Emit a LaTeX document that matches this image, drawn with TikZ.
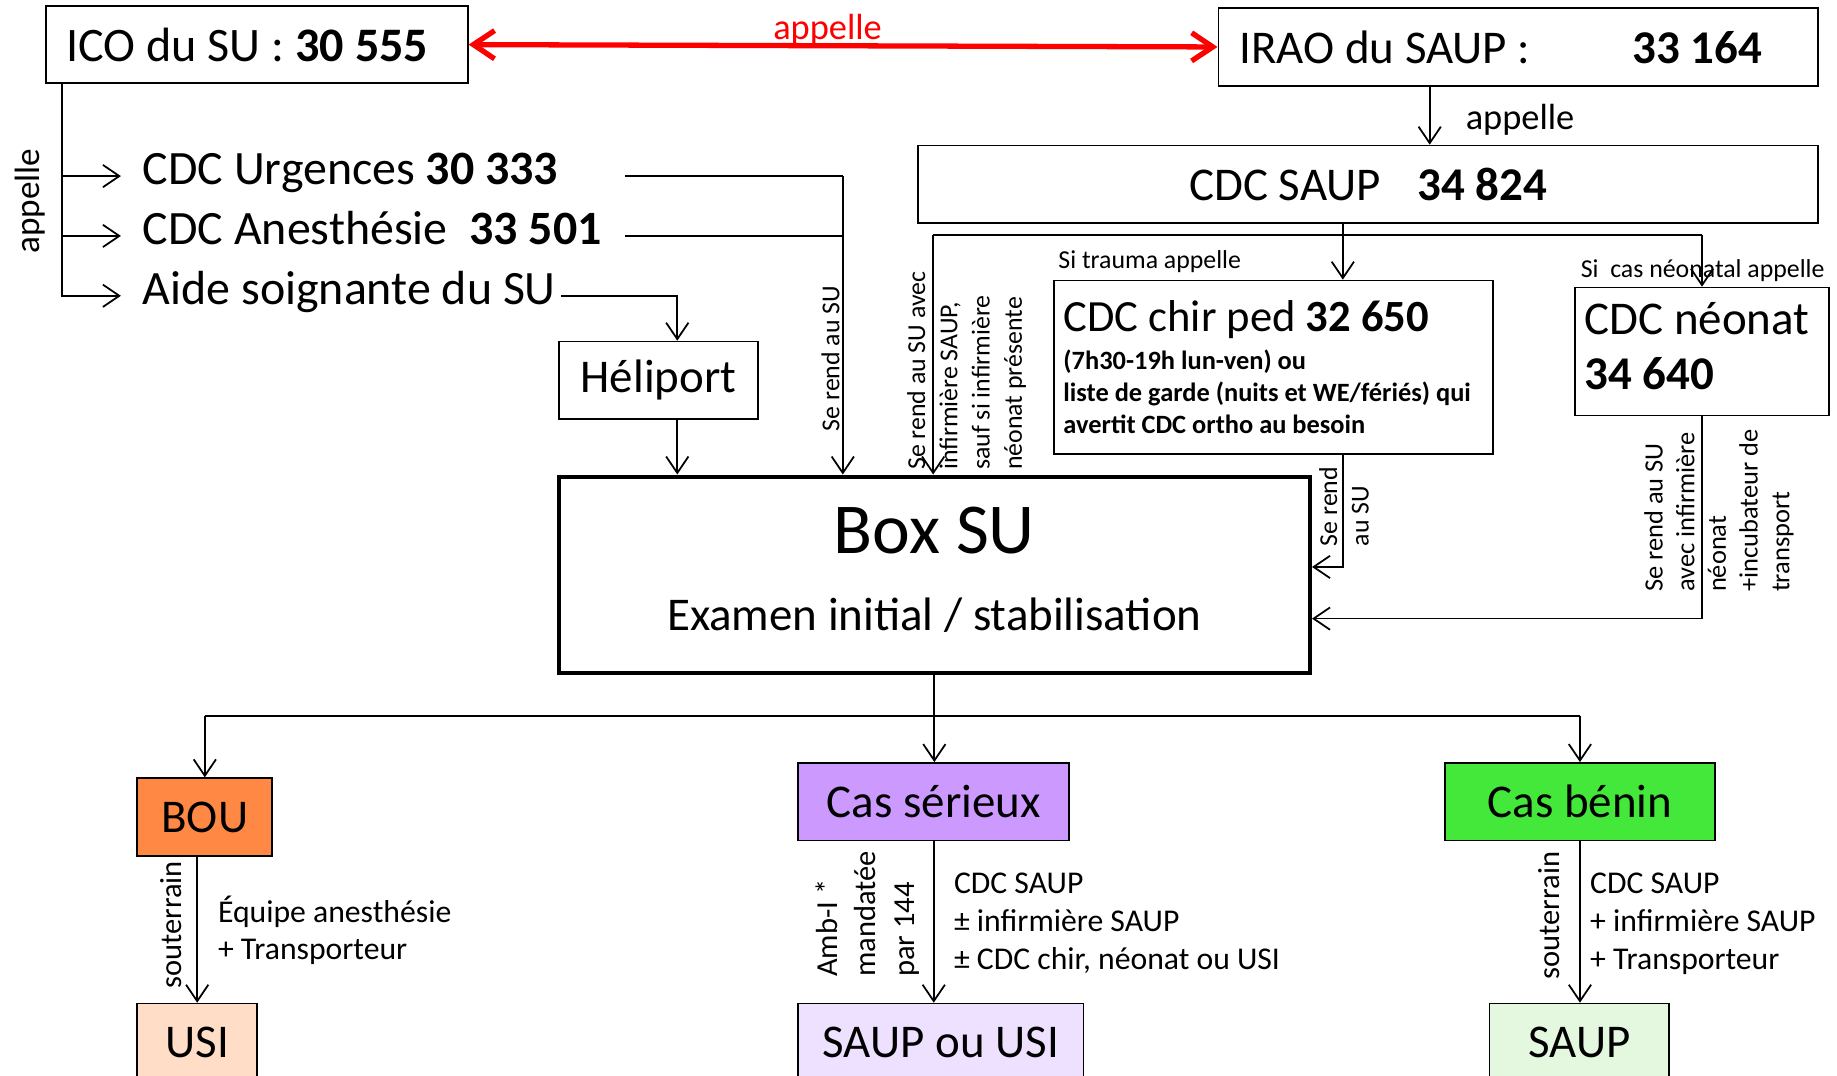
\documentclass[tikz,border=0pt]{standalone}
\usepackage{fontspec}
\setmainfont{Carlito}
\usetikzlibrary{arrows.meta}

\newlength{\du}
\setlength{\du}{1pt}

\definecolor{rougeappel}{rgb}{1.000000, 0.000000, 0.000000}
\definecolor{bouorange}{HTML}{FF8844}
\definecolor{serieuxmauve}{HTML}{CC99FF}
\definecolor{beninvert}{HTML}{44E83A}
\definecolor{usipeche}{HTML}{FFDDC6}
\definecolor{saupusimauve}{HTML}{EEE1FF}
\definecolor{saupvert}{HTML}{E4F8DF}

\tikzset{
  boite/.style={draw, line width=1.5\du, inner sep=0pt, align=center,
    font=\fontsize{40}{48}\selectfont},
  fleche/.style={arrows={-Straight Barb[length=14pt,width=19pt]}},
  doublefleche/.style={arrows={Straight Barb[length=18pt,width=24pt]-Straight Barb[length=18pt,width=24pt]}},
  texte/.style={inner sep=0pt, align=left},
  vert/.style={rotate=90, anchor=north west, inner sep=0pt, align=left},
  fpetit/.style={font=\fontsize{22}{27.5}\selectfont},
  fmoyen/.style={font=\fontsize{27}{32.5}\selectfont},
}

\begin{document}
\begin{tikzpicture}[x=\du, y=-\du, line width=1.5\du]
\useasboundingbox (0,0) rectangle (1565,916);

% en-tete : ICO <-> IRAO
\node[boite, minimum height=66\du, text width=325\du, inner xsep=17\du, align=flush left, font=\fontsize{41}{49}\selectfont] (ico) at (219,38) {ICO du SU : \textbf{30 555}};
\node[boite, minimum height=66\du, text width=475\du, inner xsep=18\du, align=flush left] (irao) at (1293.5,40) {IRAO du SAUP :\hspace{87\du}\textbf{33 164}};
\draw[rougeappel, line width=4.5\du, doublefleche] (ico.east) -- (irao.west);
\node[texte, anchor=base west, text=rougeappel, font=\fontsize{31}{37}\selectfont] (lblrouge) at (658,34) {appelle};

% appels de l'ICO
\coordinate (icotronc) at ([xshift=14\du]ico.south west);
\node[texte, anchor=west, text height=22\du, text depth=8\du, inner xsep=18\du, text width=392\du, align=flush left, font=\fontsize{40.8}{48}\selectfont] (urg) at (103,150) {CDC~Urgences~\textbf{30~333}};
\node[texte, anchor=west, text height=22\du, text depth=8\du, inner xsep=18\du, text width=392\du, align=flush left, font=\fontsize{40.8}{48}\selectfont] (anes) at (103,201) {CDC~Anesthésie~~\textbf{33~501}};
\node[texte, anchor=west, text height=22\du, text depth=8\du, inner xsep=18\du, font=\fontsize{40.8}{48}\selectfont] (aide) at (103,252) {Aide soignante du SU};
\draw[fleche] (icotronc) |- (aide.west);
\draw[fleche] (icotronc |- urg.west) -- (urg.west);
\draw[fleche] (icotronc |- anes.west) -- (anes.west);
\node[vert, font=\fontsize{30}{36}\selectfont] (lblgauche) at (12,217) {appelle};

% Box SU
\node[boite, line width=3.5\du, minimum width=640\du, minimum height=167\du] (boxsu) at (796,489.5) {{\fontsize{61}{73}\selectfont Box SU}\\[17.7\du]Examen initial / stabilisation\rule[-10\du]{0pt}{0pt}};

% Urgences et Anesthesie vers le box
\coordinate (urgcoin) at (718,150);
\draw (urg.east) -- (urgcoin);
\draw (anes.east) -- (anes.east -| urgcoin);
\draw[fleche] (urgcoin) -- (urgcoin |- boxsu.north);
\node[vert, fpetit] (lblurg) at (699,368) {Se rend au SU};

% Heliport
\node[boite, minimum width=170\du, minimum height=66\du] (helip) at (561,324) {Héliport};
\draw[fleche] ([xshift=-14\du]aide.east) -| ([xshift=16\du]helip.north);
\draw[fleche] ([xshift=16\du]helip.south) -- ([xshift=16\du]helip.south |- boxsu.north);

% CDC SAUP et ses appels
\node[boite, minimum width=767\du, minimum height=66\du] (cdcsaup) at (1165.5,157) {CDC SAUP\hspace{31\du}\textbf{34 824}};
\node[texte, anchor=base west, font=\fontsize{31}{37}\selectfont] (lblirao) at (1248,110) {appelle};
\coordinate (iraox) at (1218,0);
\draw[fleche] (irao.south -| iraox) -- (cdcsaup.north -| iraox);

\node[boite, minimum height=148\du, text width=358\du, inner xsep=8\du, align=flush left, font=\fontsize{22.5}{27.4}\selectfont\bfseries] (chirped) at (1085,313) {{\fontsize{38}{45}\mdseries CDC chir ped \textbf{32 650}}\\[4.4\du](7h30-19h lun-ven) ou\\liste de garde (nuits et WE/fériés) qui\\avertit CDC ortho au besoin};
\node[boite, minimum height=109\du, text width=200\du, inner xsep=8\du, align=flush left] (neonat) at (1450,299.5) {CDC néonat\\[-1.3\du]\textbf{34 640}\rule[-10\du]{0pt}{0pt}};
\node[texte, anchor=base west, fpetit] (lbltrauma) at (901,229) {Si trauma appelle};
\node[texte, anchor=base west, fpetit] (lblneo) at (1346,236) {Si~~cas néonatal appelle};

\coordinate (saupG) at (795,200);
\coordinate (saupM) at (1144,200);
\coordinate (saupD) at (1450,200);
\draw (saupM |- cdcsaup.south) -- (saupM);
\draw (saupG) -- (saupD);
\draw[fleche] (saupG) -- (saupG |- boxsu.north);
\draw[fleche] (saupM) -- (saupM |- chirped.north);
\draw[fleche] (saupD) -- (neonat.north);
\node[vert, fpetit] (lblsaupsu) at (772,401) {Se rend au SU avec\\infirmière SAUP,\\sauf si infirmière\\néonat présente};

% retours vers le box
\draw[fleche] (saupM |- chirped.south) |- ([yshift=6.5\du]boxsu.east);
\node[vert, font=\fontsize{22}{27}\selectfont] (lblchir) at (1123,466) {Se rend\\au SU};
\draw[fleche] (neonat.south) |- ([yshift=-37.5\du]boxsu.east);
\node[vert, font=\fontsize{22.5}{27}\selectfont] (lblneosu) at (1400,505) {Se rend au SU\\avec infirmière\\néonat\\+incubateur de\\transport};

% orientation
\node[boite, fill=bouorange, minimum width=115\du, minimum height=66\du] (bou) at (174.5,696) {BOU};
\node[boite, fill=serieuxmauve, minimum width=231\du, minimum height=66\du] (serieux) at (795.5,683) {Cas sérieux};
\node[boite, fill=beninvert, minimum width=230\du, minimum height=66\du] (benin) at (1346,683) {Cas bénin};
\node[boite, fill=usipeche, minimum width=102\du, minimum height=66\du] (usi) at (168,888) {USI};
\node[boite, fill=saupusimauve, minimum width=243\du, minimum height=66\du] (saupusi) at (801.5,888) {SAUP ou USI};
\node[boite, fill=saupvert, minimum width=153\du, minimum height=66\du] (saup) at (1345.5,888) {SAUP};

\coordinate (bas) at (796,610);
\draw (boxsu.south) -- (bas);
\draw (bou.north |- bas) -- (benin.north |- bas);
\draw[fleche] (bou.north |- bas) -- (bou.north);
\draw[fleche] (bas) -- (bas |- serieux.north);
\draw[fleche] (benin.north |- bas) -- (benin.north);

\draw[fleche] (usi.north |- bou.south) -- (usi.north);
\node[vert, font=\fontsize{26}{31}\selectfont] (lblsout1) at (136,843) {souterrain};
\node[texte, anchor=north west, font=\fontsize{27}{31.5}\selectfont] (lblbou) at (185,763) {Équipe anesthésie\\+ Transporteur};

\draw[fleche] (serieux.south) -- (serieux.south |- saupusi.north);
\node[vert, font=\fontsize{26}{33}\selectfont] (lblamb) at (694,833) {Amb-I *\\mandatée\\par 144};
\node[texte, anchor=north west, fmoyen] (lblser) at (812,743) {CDC SAUP\\± infirmière SAUP\\± CDC chir, néonat ou USI};

\draw[fleche] (benin.south) -- (benin.south |- saup.north);
\node[vert, font=\fontsize{26}{31}\selectfont] (lblsout2) at (1310,835) {souterrain};
\node[texte, anchor=north west, fmoyen] (lblben) at (1354,743) {CDC SAUP\\+ infirmière SAUP\\+ Transporteur};
\end{tikzpicture}
\end{document}
